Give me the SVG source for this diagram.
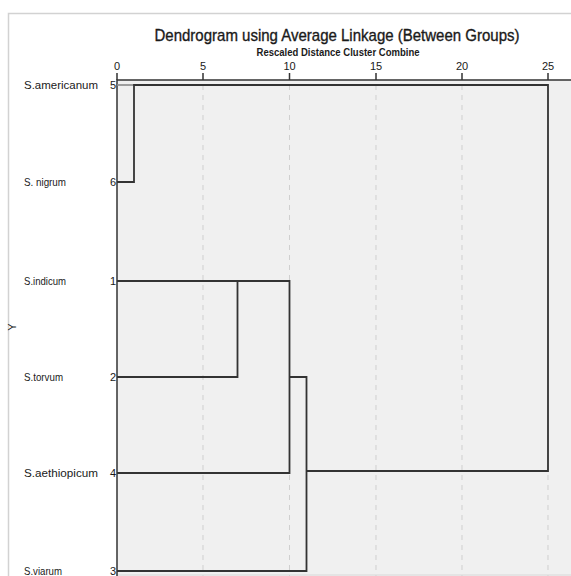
<svg xmlns="http://www.w3.org/2000/svg" width="571" height="576" viewBox="0 0 571 576">
<style>
text{font-family:"Liberation Sans",Arial,sans-serif;fill:#1a1a1a}
.lbl{font-size:11px}
.num{font-size:11px;text-anchor:end}
.tick{font-size:11px;text-anchor:middle}
.grid{stroke:#cfcfcf;stroke-width:1;stroke-dasharray:5,5}
.ax{stroke:#333;stroke-width:1.5;fill:none}
.dl{stroke:#333;stroke-width:1.8;fill:none}
</style>
<rect x="0" y="0" width="571" height="576" fill="#ffffff"/>
<path d="M8.5 576 V13.5 H571" fill="none" stroke="#d2d2d2" stroke-width="1.5"/>
<text x="337" y="41" font-size="17" text-anchor="middle" textLength="365" lengthAdjust="spacingAndGlyphs" stroke="#1a1a1a" stroke-width="0.35">Dendrogram using Average Linkage (Between Groups)</text>
<text x="338" y="56" font-size="11" font-weight="bold" text-anchor="middle" textLength="163" lengthAdjust="spacingAndGlyphs">Rescaled Distance Cluster Combine</text>
<text x="16" y="327" font-size="11" text-anchor="middle" transform="rotate(-90 16 327)">Y</text>
<g id="axis">
<rect x="117" y="80" width="454" height="496" fill="#f0f0f0"/>
<line class="grid" x1="203" y1="85" x2="203" y2="576"/>
<line class="grid" x1="289.5" y1="85" x2="289.5" y2="576"/>
<line class="grid" x1="376" y1="85" x2="376" y2="576"/>
<line class="grid" x1="462" y1="85" x2="462" y2="576"/>
<line class="grid" x1="548" y1="85" x2="548" y2="576"/>
<line x1="117" y1="575" x2="571" y2="575" stroke="#d8d8d8" stroke-width="1"/>
<path class="ax" d="M117 576 V80 H571"/>
<path class="ax" d="M117 73 V80 M203 73 V80 M289.5 73 V80 M376 73 V80 M462 73 V80 M548 73 V80"/>
<text class="tick" x="117" y="70">0</text>
<text class="tick" x="203" y="70">5</text>
<text class="tick" x="289.5" y="70">10</text>
<text class="tick" x="376" y="70">15</text>
<text class="tick" x="462" y="70">20</text>
<text class="tick" x="548" y="70">25</text>
</g>
<g id="leaf-5"><text class="lbl" x="24" y="89" textLength="74" lengthAdjust="spacingAndGlyphs">S.americanum</text><text class="num" x="116" y="89">5</text></g>
<g id="leaf-6"><text class="lbl" x="24" y="186" textLength="42" lengthAdjust="spacingAndGlyphs">S. nigrum</text><text class="num" x="116" y="186">6</text></g>
<g id="leaf-1"><text class="lbl" x="24" y="285" textLength="42" lengthAdjust="spacingAndGlyphs">S.indicum</text><text class="num" x="116" y="285">1</text></g>
<g id="leaf-2"><text class="lbl" x="24" y="381" textLength="39" lengthAdjust="spacingAndGlyphs">S.torvum</text><text class="num" x="116" y="381">2</text></g>
<g id="leaf-4"><text class="lbl" x="24" y="477" textLength="74" lengthAdjust="spacingAndGlyphs">S.aethiopicum</text><text class="num" x="116" y="477">4</text></g>
<g id="leaf-3"><text class="lbl" x="24" y="575" textLength="38" lengthAdjust="spacingAndGlyphs">S.viarum</text><text class="num" x="116" y="575">3</text></g>
<g id="connectors">
<path d="M117 85 H134" stroke="#8a8a8a" stroke-width="1.6" fill="none"/>
<path class="dl" d="M117 182 H134 V85 H548 V471 H306"/>
<path class="dl" d="M117 281 H237.5 V377 H117"/>
<path class="dl" d="M237.5 281 H289.5 V473 H117"/>
<path class="dl" d="M289.5 377 H306.5 V571 H117"/>
<path class="dl" d="M306.5 471 H548"/>
</g>
</svg>
